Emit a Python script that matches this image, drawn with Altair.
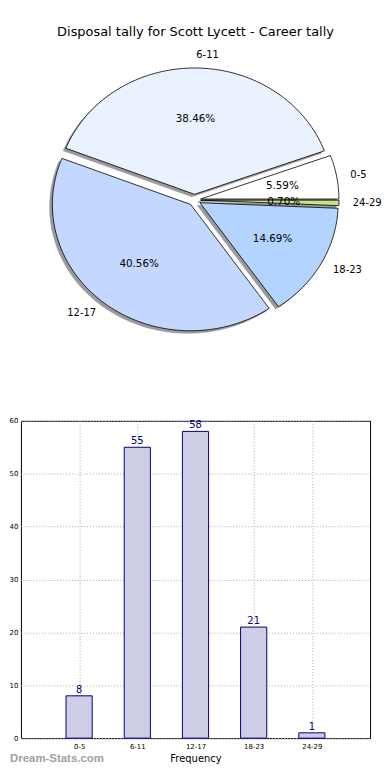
import math
import altair as alt
import pandas as pd

chart_title = "Disposal tally for Scott Lycett - Career tally"
categories = ["0-5", "6-11", "12-17", "18-23", "24-29"]
counts = [8, 55, 58, 21, 1]
pie_colors = ["#ffffff", "#eaf1ff", "#c4d8ff", "#b2d4ff", "#c4e38a"]
explode = 0.045
x_label = "Frequency"
watermark = "Dream-Stats.com"

# ---- pie geometry (matplotlib style: counter-clockwise from 3 o'clock) ----
total = sum(counts)
poly_rows = []
label_rows = []
start = 0.0
for cat, n, col in zip(categories, counts, pie_colors):
    span = 360.0 * n / total
    t1 = start
    tm = math.radians(t1 + span / 2)
    ox, oy = explode * math.cos(tm), explode * math.sin(tm)
    steps = max(2, int(math.ceil(span / 1.5)))
    pts = [(ox, oy)]
    for k in range(steps + 1):
        a = math.radians(t1 + span * k / steps)
        pts.append((ox + math.cos(a), oy + math.sin(a)))
    for j, (px, py) in enumerate(pts):
        poly_rows.append(dict(cat=cat, color=col, order=j, x=px, y=py,
                              sx=px - 0.02, sy=py - 0.02))
    c, s = math.cos(tm), math.sin(tm)
    label_rows.append(dict(cat=cat, pct=f"{100.0 * n / total:.2f}%",
                           lx=ox + 1.1 * c, ly=oy + 1.1 * s,
                           px=ox + 0.6 * c, py=oy + 0.6 * s,
                           side="left" if c >= 0 else "right"))
    start += span

poly = pd.DataFrame(poly_rows)
labels = pd.DataFrame(label_rows)

PIE_W, PIE_H = 351, 350
xs = alt.Scale(domain=[-1.2554, 1.2698], nice=False, zero=False)
ys = alt.Scale(domain=[-1.252, 1.504], nice=False, zero=False)

base_poly = alt.Chart(poly)
shadow = base_poly.mark_line(interpolate="linear-closed", fill="#9a9a9a",
                             stroke="#9a9a9a", strokeWidth=0.5).encode(
    x=alt.X("sx:Q", scale=xs, axis=None),
    y=alt.Y("sy:Q", scale=ys, axis=None),
    order="order:Q",
    detail="cat:N",
)
wedges = base_poly.mark_line(interpolate="linear-closed", stroke="black",
                             strokeWidth=0.8).encode(
    x=alt.X("x:Q", scale=xs, axis=None),
    y=alt.Y("y:Q", scale=ys, axis=None),
    order="order:Q",
    detail="cat:N",
    fill=alt.Fill("color:N", scale=None),
)
base_lab = alt.Chart(labels)
cat_left = base_lab.transform_filter(alt.datum.side == "left").mark_text(
    align="left", baseline="middle", fontSize=10, color="black").encode(
    x=alt.X("lx:Q", scale=xs, axis=None),
    y=alt.Y("ly:Q", scale=ys, axis=None),
    text="cat:N",
)
cat_right = base_lab.transform_filter(alt.datum.side == "right").mark_text(
    align="right", baseline="middle", fontSize=10, color="black").encode(
    x=alt.X("lx:Q", scale=xs, axis=None),
    y=alt.Y("ly:Q", scale=ys, axis=None),
    text="cat:N",
)
pcts = base_lab.mark_text(align="center", baseline="middle", fontSize=10.4,
                          color="black").encode(
    x=alt.X("px:Q", scale=xs, axis=None),
    y=alt.Y("py:Q", scale=ys, axis=None),
    text="pct:N",
)
title_mark = alt.Chart(pd.DataFrame({"t": [chart_title]})).mark_text(
    align="center", baseline="middle", fontSize=13, color="black").encode(
    x=alt.value(175.5), y=alt.value(22), text="t:N")

pie = alt.layer(shadow, wedges, cat_left, cat_right, pcts, title_mark).properties(
    width=PIE_W, height=PIE_H, view=alt.ViewBackground(strokeWidth=0))

# ---- bar chart ----
BAR_W, BAR_H = 351, 319
bars_df = pd.DataFrame({"cat": categories, "count": counts})
bars_df["pos"] = range(1, len(categories) + 1)
bars_df["lo"] = bars_df["pos"] - 0.225
bars_df["hi"] = bars_df["pos"] + 0.225
bars_df["base"] = 0
label_expr = "[" + ",".join(f"'{c}'" for c in categories) + "][datum.value - 1]"

xb = alt.Scale(domain=[0, len(categories) + 1], nice=False, zero=False)
yb = alt.Scale(domain=[0, 60], nice=False)

bars = alt.Chart(bars_df).mark_bar(fill="#cdcde6", stroke="#000080",
                                   strokeWidth=1).encode(
    x=alt.X("lo:Q", scale=xb, title=x_label,
            axis=alt.Axis(values=list(range(1, len(categories) + 1)),
                          labelExpr=label_expr, grid=True, ticks=False,
                          domain=False, labelFontSize=7, labelPadding=4,
                          titleFontSize=10, titlePadding=4,
                          titleFontWeight="normal", labelColor="black",
                          titleColor="black", gridColor="#aaaaaa",
                          gridDash=[1, 2], labelFlush=False, minExtent=0)),
    x2="hi:Q",
    y=alt.Y("count:Q", scale=yb, title=None,
            axis=alt.Axis(values=list(range(0, 61, 10)), grid=True,
                          ticks=False, domain=False, labelFontSize=7,
                          labelPadding=3, labelColor="black",
                          gridColor="#aaaaaa", gridDash=[1, 2],
                          labelFlush=False, minExtent=0)),
    y2="base:Q",
)
bar_text = alt.Chart(bars_df).mark_text(baseline="bottom", dy=-1, fontSize=10,
                                        color="#000080").encode(
    x=alt.X("pos:Q", scale=xb),
    y=alt.Y("count:Q", scale=yb),
    text="count:Q",
)
wm = alt.Chart(pd.DataFrame({"t": [watermark]})).mark_text(
    align="left", baseline="middle", fontSize=11.5, fontWeight="bold",
    font="Liberation Sans", color="#a0a0a0").encode(
    x=alt.value(-11), y=alt.value(BAR_H + 21), text="t:N")

bar_chart = alt.layer(bars, bar_text, wm).properties(
    width=BAR_W, height=BAR_H,
    view=alt.ViewBackground(stroke="black", strokeWidth=1))

chart = alt.vconcat(pie, bar_chart, spacing=63, bounds="flush").properties(
    padding={"left": 0, "top": 0, "right": 0, "bottom": 0}
).configure(font="DejaVu Sans")

chart.save("out.html", embed_options={"renderer": "svg", "actions": False})
